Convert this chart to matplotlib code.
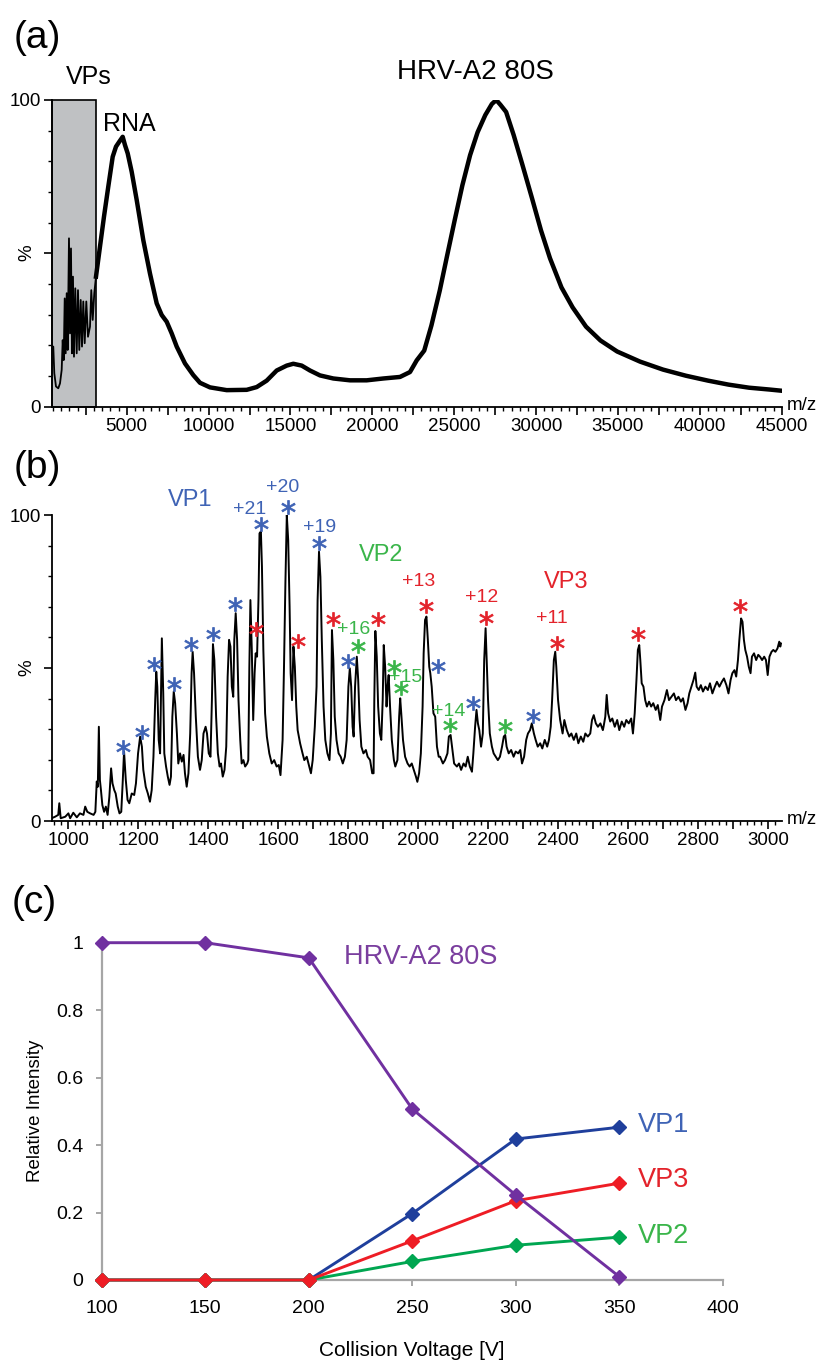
import matplotlib
matplotlib.use('Agg')
import matplotlib.pyplot as plt
from matplotlib.ticker import MultipleLocator, FuncFormatter, FixedLocator, FixedFormatter
import matplotlib.patches as mpatches

# ---------------- data: panel (a) full-range spectrum ----------------
mz_a = [470, 517, 579, 682, 823, 927, 1030, 1092, 1153, 1214, 1275, 1336, 1397, 1476, 1537,
        1598, 1659, 1720, 1781, 1861, 1947, 2026, 2105, 2191, 2270, 2350, 2435, 2533, 2637,
        2759, 2838, 2924, 3021, 3125,
        3369, 3614, 3877, 4145, 4347, 4548, 4756, 4896, 5061, 5305, 5611, 6014, 6423, 6832,
        7137, 7443, 7748, 8054, 8560, 9067, 9476, 10087, 11107, 12328, 12939, 13550, 14160,
        14771, 15174, 15687, 16194, 16805, 17617, 18637, 19657, 20672, 21690, 22301, 22710,
        23170, 23610, 24120, 24570, 25030, 25500, 25970, 26430, 26900, 27300, 27570, 27830,
        28170, 28630, 29170, 29750, 30300, 30850, 31550, 32230, 33050, 33930, 34950, 36350,
        37750, 39150, 40500, 41750, 43000, 44250, 45000]
int_a = [19.6, 19.6, 10.9, 6.6, 6.0, 7.6, 12.0, 21.7, 15.2, 35.3, 17.4, 37.0, 18.5, 54.9, 23.9,
         51.6, 17.4, 42.4, 16.3, 38.6, 17.4, 38.0, 18.5, 34.8, 19.6, 34.3, 20.7, 34.3, 22.8,
         26.1, 38.0, 28.3, 37.0, 42.4,
         52.2, 62.0, 71.8, 81.5, 84.8, 86.4, 88.0, 85.3, 82.6, 76.6, 67.4, 54.3, 43.4, 33.7,
         29.9, 27.7, 23.9, 19.6, 14.1, 10.3, 7.8, 6.3, 5.4, 5.5, 6.4, 8.5, 11.8,
         13.4, 14.0, 13.4, 11.8, 10.2, 9.2, 8.6, 8.6, 9.2, 9.7, 11.3, 15.1,
         18.3, 26.5, 37.9, 49.3, 60.8, 72.2, 82.0, 89.5, 95.1, 98.7, 100.0, 98.4,
         96.1, 88.6, 78.8, 68.0, 57.5, 48.4, 38.9, 32.4, 26.1, 21.6, 18.0, 14.7,
         12.1, 10.1, 8.5, 7.2, 6.2, 5.6, 5.2]
vp_region_end = 3125

# ---------------- data: panel (b) low m/z spectrum ----------------
mz_b = [952, 962, 971, 974, 978, 991, 1000, 1005, 1014, 1024, 1033, 1043, 1048, 1054, 1062, 1072,
        1077, 1081, 1084, 1087, 1090, 1093, 1097, 1102, 1107, 1112, 1117, 1122, 1126, 1131, 1135,
        1141, 1146, 1151, 1155, 1159, 1164, 1169, 1174, 1181, 1188, 1193, 1199, 1205, 1210, 1214,
        1221, 1227, 1233, 1238, 1243, 1248, 1251, 1254, 1258, 1262, 1267, 1271, 1274, 1279, 1284,
        1289, 1293, 1297, 1301, 1305, 1310, 1314, 1319, 1324, 1329, 1333, 1338, 1343, 1348, 1352,
        1355, 1359, 1364, 1370, 1376, 1381, 1386, 1392, 1396, 1401, 1406, 1410, 1413, 1417, 1422,
        1427, 1432, 1436, 1441, 1446, 1451, 1455, 1459, 1463, 1467, 1471, 1474, 1478, 1482, 1486,
        1491, 1495, 1500, 1505, 1511,
        1514, 1517, 1520, 1524, 1528, 1532, 1535, 1539, 1543, 1546, 1550, 1553, 1557, 1562, 1567,
        1574, 1581, 1588, 1595, 1601, 1606, 1612, 1616, 1620, 1624, 1628, 1632, 1635, 1639, 1643,
        1647, 1651, 1655, 1662, 1669, 1674, 1681, 1688, 1693, 1698, 1704, 1709, 1712, 1716, 1720,
        1724, 1729, 1734, 1740, 1746, 1750, 1753, 1757, 1761, 1766, 1772, 1778, 1784, 1790, 1795,
        1800, 1804, 1808, 1812, 1815, 1819, 1824, 1828, 1832, 1837, 1843, 1850, 1855, 1862, 1868,
        1872, 1874, 1877, 1881, 1885, 1890, 1894, 1898, 1901, 1905, 1909, 1912, 1915, 1919, 1924,
        1930, 1934, 1940, 1945, 1948, 1951, 1956, 1962, 1969, 1975, 1981, 1987, 1993, 1997, 2002,
        2007, 2012, 2015, 2019, 2023, 2027, 2031, 2034, 2038, 2043, 2048, 2053, 2058,
        2062, 2070, 2076, 2083, 2087, 2092, 2096, 2102, 2110, 2116, 2122, 2129, 2135, 2141, 2147,
        2153, 2157, 2162, 2166, 2170, 2174, 2179, 2184, 2188, 2192, 2195, 2199, 2204, 2210, 2215,
        2221, 2227, 2233, 2239, 2244, 2248, 2252, 2258, 2265, 2272, 2278, 2285, 2291, 2296, 2302,
        2308, 2313, 2319, 2324, 2330, 2335, 2341, 2348, 2354, 2361, 2368, 2373, 2378, 2382, 2387,
        2391, 2394, 2399, 2405, 2412, 2417, 2424, 2431, 2437, 2444, 2451, 2457, 2464, 2471, 2477,
        2484, 2491, 2496, 2501, 2507, 2513, 2520, 2527,
        2529, 2534, 2538, 2542, 2548, 2554, 2561, 2568, 2574, 2581, 2588, 2594, 2601, 2608, 2613,
        2618, 2623, 2627, 2631, 2634, 2638, 2643, 2648, 2653, 2659, 2665, 2671, 2678, 2684, 2691,
        2696, 2703, 2710, 2716, 2723, 2730, 2736, 2743, 2750, 2756, 2763, 2769, 2774, 2780, 2786,
        2791, 2795, 2801, 2807, 2813, 2820, 2827, 2833, 2840, 2847, 2853, 2860, 2867, 2873, 2880,
        2886, 2892, 2897, 2903, 2908, 2913, 2917, 2922, 2926, 2930, 2934, 2939, 2944, 2949, 2953,
        2959, 2965, 2971, 2976, 2982, 2988, 2993, 2998, 3003, 3009, 3014, 3020, 3026, 3031, 3034,
        3036]
int_b = [0.9, 1.4, 2.0, 5.8, 0.9, 1.4, 2.5, 0.9, 2.7, 1.2, 2.5, 2.0, 4.7, 3.0, 2.5, 2.0,
         3.0, 12.9, 11.2, 30.8, 13.4, 10.1, 5.2, 3.0, 4.7, 2.0, 7.9, 17.2, 12.3, 10.1, 9.0,
         4.7, 2.5, 3.0, 12.3, 22.7, 13.4, 6.9, 5.8, 9.0, 8.5, 12.3, 22.1, 27.6, 24.3, 16.7,
         11.2, 9.0, 6.3, 10.1, 21.0, 39.5, 48.8, 43.9, 26.5, 22.1, 59.7, 41.7, 22.1, 17.8, 14.5,
         11.8, 14.5, 34.1, 42.3, 38.5, 28.6, 18.8, 22.1, 19.4, 21.6, 15.6, 11.2, 15.6, 28.6, 48.3,
         55.3, 48.3, 34.1, 21.0, 16.7, 19.9, 28.6, 30.8, 28.6, 22.1, 21.0, 39.5, 57.8, 52.6, 34.1,
         22.1, 17.8, 18.8, 14.5, 16.7, 24.3, 47.2, 59.2, 57.0, 43.9, 40.6, 59.2, 67.9, 59.2, 39.5,
         26.5, 18.8, 19.9, 17.8, 18.8,
         19.9, 50.4, 72.2, 55.9, 33.0, 48.3, 54.8, 53.7, 72.2, 94.0, 94.6, 83.1, 55.9, 35.2, 27.6,
         22.1, 18.8, 19.9, 17.8, 18.3, 15.0, 26.5, 50.4, 77.7, 100.0, 91.8, 70.0, 48.3, 39.5, 57.0,
         50.4, 37.4, 29.7, 25.4, 22.1, 19.9, 21.0, 17.8, 15.6, 19.9, 30.8, 43.9, 72.2, 88.0, 79.8,
         59.2, 37.4, 26.5, 22.1, 19.9, 28.6, 62.4, 52.6, 34.1, 26.5, 22.1, 21.0, 18.8, 21.0, 26.5,
         43.9, 49.9, 43.9, 30.8, 27.6, 43.9, 53.7, 46.1, 33.0, 24.3, 22.1, 23.2, 21.0, 19.9, 15.6,
         15.6, 39.5, 62.1, 53.7, 37.4, 28.6, 26.5, 39.5, 57.5, 50.4, 37.4, 43.9, 47.7, 37.4, 26.5,
         19.9, 17.8, 19.9, 34.1, 40.1, 35.2, 26.5, 21.0, 18.8, 17.8, 18.8, 16.7, 14.5, 12.8, 15.6,
         22.1, 37.4, 54.8, 65.7, 66.8, 59.2, 50.4, 48.3, 43.9, 35.2, 34.1, 24.3, 21.0,
         21.0, 18.8, 19.9, 22.1, 27.6, 28.1, 24.3, 18.8, 17.8, 18.8, 16.7, 18.8, 17.8, 21.0, 17.8,
         16.1, 22.1, 30.8, 36.3, 31.9, 29.7, 24.3, 28.6, 52.6, 63.0, 52.6, 39.5, 28.6, 24.3, 22.1,
         21.0, 19.9, 21.0, 24.3, 27.6, 28.1, 24.3, 22.1, 23.2, 21.0, 22.7, 22.1, 23.2, 18.8, 21.0,
         26.5, 28.6, 29.7, 31.9, 28.6, 26.5, 24.3, 25.4, 23.7, 26.5, 24.3, 26.5, 30.8, 39.5, 52.6,
         55.3, 50.4, 39.5, 33.0, 28.6, 33.0, 29.7, 27.6, 28.6, 26.5, 28.6, 25.4, 27.6, 25.9, 28.6,
         27.6, 28.6, 33.0, 34.6, 31.9, 30.8, 31.9, 29.7,
         30.8, 34.1, 41.2, 35.2, 32.5, 33.5, 30.8, 33.0, 29.7, 32.5, 30.8, 33.0, 31.9, 33.5, 28.6,
         35.2, 46.1, 55.9, 57.5, 52.6, 45.0, 43.9, 39.5, 37.4, 39.0, 37.4, 38.5, 36.3, 37.9, 33.0,
         37.4, 39.5, 42.8, 39.5, 40.6, 41.7, 39.5, 40.6, 39.0, 40.1, 36.3, 38.5, 41.7, 43.9, 46.1,
         48.5, 43.9, 42.8, 44.4, 42.3, 43.9, 42.8, 45.0, 41.7, 43.9, 45.5, 43.9, 45.5, 46.6, 44.4,
         41.7, 46.1, 48.3, 49.3, 47.2, 52.6, 59.2, 66.2, 65.1, 59.2, 55.9, 53.7, 50.4, 48.3, 53.7,
         54.8, 52.6, 54.3, 53.7, 52.6, 53.7, 52.6, 47.7, 53.7, 55.3, 55.9, 55.3, 56.4, 58.6, 57.0,
         58.0]

# asterisk annotations (m/z, intensity, series)
star_mz = [1157, 1211, 1245, 1302, 1351, 1412, 1477, 1550, 1626, 1717, 1800,
           1536, 1655, 1755, 1884,
           1826, 1929, 1951,
           2022, 2193, 2395, 2626, 2919,
           2055, 2155, 2327,
           2090, 2248]
star_int = [24.3, 29.2, 51.3, 44.8, 57.8, 61.1, 70.9, 97.1, 102.7, 91.0, 52.4,
            62.6, 58.8, 65.9, 65.9,
            57.2, 50.4, 43.6,
            70.3, 66.2, 58.1, 61.1, 70.3,
            50.7, 38.5, 34.4,
            31.4, 31.0]
star_series = ['VP1'] * 11 + ['VP3'] * 4 + ['VP2'] * 3 + ['VP3'] * 5 + ['VP1'] * 3 + ['VP2'] * 2

# charge-state labels
charge_text = ['+21', '+20', '+19', '+16', '+15', '+14', '+13', '+12', '+11']
charge_series = ['VP1', 'VP1', 'VP1', 'VP2', 'VP2', 'VP2', 'VP3', 'VP3', 'VP3']
charge_px = [(250, 510), (283, 487), (320, 527), (354, 629), (406, 677), (449, 712),
             (419, 581), (482, 597), (552, 618)]

# ---------------- data: panel (c) ----------------
voltage = [100, 150, 200, 250, 300, 350]
hrv = [1.0, 1.0, 0.955, 0.507, 0.252, 0.01]
vp1 = [0, 0, 0, 0.197, 0.418, 0.453]
vp2 = [0, 0, 0, 0.055, 0.103, 0.127]
vp3 = [0, 0, 0, 0.116, 0.235, 0.287]

# ---------------- styling ----------------
plt.rcParams['font.family'] = ['Liberation Sans', 'DejaVu Sans']
narrow = ['Liberation Sans Narrow', 'Liberation Sans', 'DejaVu Sans']
text_col = {'VP1': '#3F63B5', 'VP2': '#3AB54A', 'VP3': '#E3232B'}

W, H = 823, 1361
fig = plt.figure(figsize=(W / 100, H / 100), dpi=100)


def fpos(px, py):
    return px / W, 1 - py / H


def style_spec_axis(ax):
    for s in ['top', 'right']:
        ax.spines[s].set_visible(False)
    for s in ['left', 'bottom']:
        ax.spines[s].set_linewidth(1.3)
    ax.tick_params(axis='both', which='major', direction='out', length=5.5, width=1.2,
                   labelsize=13.5, pad=2.5)
    ax.tick_params(axis='both', which='minor', direction='out', length=3.2, width=1.0)
    ax.set_ylim(0, 100)
    ax.yaxis.set_major_locator(FixedLocator([0, 50, 100]))
    ax.yaxis.set_major_formatter(FixedFormatter(['0', '', '100']))
    ax.yaxis.set_minor_locator(MultipleLocator(10))


# ---------------- panel (a) ----------------
ax_a = fig.add_axes([52.3 / W, 1 - 406.7 / H, (781.7 - 52.3) / W, (406.7 - 100) / H])
ax_a.set_xlim(457, 45000)
style_spec_axis(ax_a)
ax_a.xaxis.set_major_locator(MultipleLocator(2500))
ax_a.xaxis.set_minor_locator(MultipleLocator(500))
ax_a.xaxis.set_major_formatter(FuncFormatter(lambda v, p: f'{int(round(v))}' if round(v) % 5000 == 0 and v > 0 else ''))
ax_a.add_patch(mpatches.Rectangle((457, 0), vp_region_end - 457, 100, facecolor='#BFC1C3',
                                  edgecolor='black', linewidth=1.2, zorder=1, clip_on=False))
k = mz_a.index(vp_region_end)
ax_a.plot(mz_a[:k + 1], int_a[:k + 1], color='black', lw=1.3, zorder=3)
ax_a.plot(mz_a[k:], int_a[k:], color='black', lw=3.2, zorder=3, solid_joinstyle='round')
ax_a.text(2667, 107.5, 'VPs', fontsize=18, ha='center', va='center', clip_on=False)
ax_a.text(3553, 92.2, 'RNA', fontsize=18, ha='left', va='center')
ax_a.text(26300, 109, 'HRV-A2 80S', fontsize=20, ha='center', va='center', clip_on=False)
fig.text(*fpos(27, 253), '%', fontsize=13.5, rotation=90, ha='center', va='center')
fig.text(*fpos(787, 406), 'm/z', fontsize=13.5, ha='left', va='center')
fig.text(*fpos(14, 38), '(a)', fontsize=28, ha='left', va='center')

# ---------------- panel (b) ----------------
ax_b = fig.add_axes([52.3 / W, 1 - 821 / H, (781.7 - 52.3) / W, (821 - 515) / H])
ax_b.set_xlim(954, 3038)
style_spec_axis(ax_b)
ax_b.xaxis.set_major_locator(MultipleLocator(100))
ax_b.xaxis.set_minor_locator(MultipleLocator(20))
ax_b.xaxis.set_major_formatter(FuncFormatter(lambda v, p: f'{int(round(v))}' if round(v) % 200 == 0 else ''))
ax_b.plot(mz_b, int_b, color='black', lw=1.4, zorder=3)
for m, v, s in zip(star_mz, star_int, star_series):
    ax_b.plot([m], [v], marker='$*$', markersize=10, color=text_col[s], mec=text_col[s],
              mew=0.6, linestyle='none', clip_on=False, zorder=4)
for t, s, (px, py) in zip(charge_text, charge_series, charge_px):
    fig.text(*fpos(px, py), t, fontsize=14, color=text_col[s], ha='center', va='center')
fig.text(*fpos(190, 500), 'VP1', fontsize=17, color=text_col['VP1'], ha='center', va='center')
fig.text(*fpos(381, 555), 'VP2', fontsize=17, color=text_col['VP2'], ha='center', va='center')
fig.text(*fpos(566, 582), 'VP3', fontsize=17, color=text_col['VP3'], ha='center', va='center')
fig.text(*fpos(27, 668), '%', fontsize=13.5, rotation=90, ha='center', va='center')
fig.text(*fpos(787, 820), 'm/z', fontsize=13.5, ha='left', va='center')
fig.text(*fpos(14, 468), '(b)', fontsize=28, ha='left', va='center')

# ---------------- panel (c) ----------------
grey = '#A6A6A6'
ax_c = fig.add_axes([101.8 / W, 1 - 1280 / H, 620.9 / W, 337.3 / H])
ax_c.set_xlim(100, 400)
ax_c.set_ylim(0, 1)
for s in ['top', 'right']:
    ax_c.spines[s].set_visible(False)
for s in ['left', 'bottom']:
    ax_c.spines[s].set_color(grey)
    ax_c.spines[s].set_linewidth(1.6)
ax_c.set_xticks([100, 150, 200, 250, 300, 350, 400])
ax_c.set_yticks([0, 0.2, 0.4, 0.6, 0.8, 1.0])
ax_c.set_yticklabels(['0', '0.2', '0.4', '0.6', '0.8', '1'])
ax_c.tick_params(axis='both', direction='out', length=4.5, width=1.4, color=grey, labelsize=14)
ax_c.tick_params(axis='y', pad=9)
ax_c.tick_params(axis='x', pad=10)
for lab in ax_c.get_xticklabels() + ax_c.get_yticklabels():
    lab.set_family(narrow)

series_c = [(vp1, '#1F3F9C'), (vp2, '#00A651'), (vp3, '#EE1D25'), (hrv, '#7030A0')]
for vals, col in series_c:
    ax_c.plot(voltage, vals, color=col, lw=2.1, marker='D', markersize=7, mfc=col, mec=col,
              clip_on=False, zorder=3)
ax_c.text(217, 0.958, 'HRV-A2 80S', fontsize=19.5, color='#7A3E9E', ha='left', va='center', family=narrow)
ax_c.text(359, 0.46, 'VP1', fontsize=19.5, color='#3F63B5', ha='left', va='center', family=narrow)
ax_c.text(359, 0.296, 'VP3', fontsize=19.5, color='#E3232B', ha='left', va='center', family=narrow)
ax_c.text(359, 0.13, 'VP2', fontsize=19.5, color='#3AB54A', ha='left', va='center', family=narrow)
fig.text(*fpos(35, 1111), 'Relative Intensity', fontsize=13.5, rotation=90, ha='center', va='center')
fig.text(*fpos(412, 1350), 'Collision Voltage [V]', fontsize=15, ha='center', va='center', family=narrow)
fig.text(*fpos(12, 903), '(c)', fontsize=28, ha='left', va='center')

fig.savefig('out.png', dpi=100)
